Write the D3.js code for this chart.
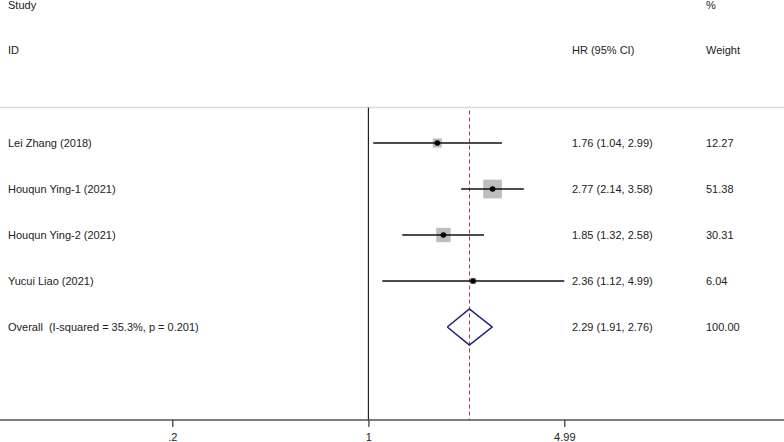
<!DOCTYPE html>
<html>
<head>
<meta charset="utf-8">
<script src="https://d3js.org/d3.v7.min.js"></script>
<style>
  body { margin: 0; background: #fff; }
  svg text { font-family: "Liberation Sans", Arial, sans-serif; font-size: 11px; fill: #222; white-space: pre; }
</style>
</head>
<body>
<svg id="plot" width="784" height="442"></svg>
<script>
let studies = ["Lei Zhang (2018)", "Houqun Ying-1 (2021)", "Houqun Ying-2 (2021)", "Yucui Liao (2021)"];
let hr = [1.76, 2.77, 1.85, 2.36];
let lower = [1.04, 2.14, 1.32, 1.12];
let upper = [2.99, 3.58, 2.58, 4.99];
let weights = [12.27, 51.38, 30.31, 6.04];

let overallLabel = "Overall  (I-squared = 35.3%, p = 0.201)";
let overall = {hr: 2.29, lo: 1.91, hi: 2.76, weight: 100.00};

let tickVals = [0.2, 1, 4.99];
let tickLabels = [".2", "1", "4.99"];

let width = 784, height = 442;
let svg = d3.select("#plot");

let x = d3.scaleLog()
  .domain([0.2, 4.99])
  .range([172.3, 564.3]);

let rows = studies.concat([overallLabel]);
let y = d3.scalePoint()
  .domain(rows)
  .range([143, 327]);

let axisY = 420, topY = 107.5;
let fmt = d3.format(".2f");

// header
svg.append("text").attr("x", 8).attr("y", 9).text("Study");
svg.append("text").attr("x", 8).attr("y", 54).text("ID");
svg.append("text").attr("x", 572).attr("y", 54).text("HR (95% CI)");
svg.append("text").attr("x", 706).attr("y", 9).text("%");
svg.append("text").attr("x", 706).attr("y", 54).text("Weight");

svg.append("line")
  .attr("x1", 0).attr("x2", width)
  .attr("y1", topY).attr("y2", topY)
  .attr("stroke", "#d9d9d9").attr("stroke-width", 1.5);

// null line
svg.append("line")
  .attr("x1", x(1)).attr("x2", x(1))
  .attr("y1", topY).attr("y2", axisY)
  .attr("stroke", "#222").attr("stroke-width", 1.2);

// overall effect line
let ox = Math.round(x(overall.hr)) + 0.5;
svg.append("line")
  .attr("x1", ox).attr("x2", ox)
  .attr("y1", topY + 3).attr("y2", axisY)
  .attr("stroke", "#a03c3c").attr("stroke-width", 1)
  .attr("stroke-dasharray", "4,3");

// axis
svg.append("line")
  .attr("x1", 0).attr("x2", width)
  .attr("y1", axisY).attr("y2", axisY)
  .attr("stroke", "#555").attr("stroke-width", 1.5);

let axis = svg.append("g")
  .attr("transform", "translate(0," + axisY + ")")
  .call(d3.axisBottom(x)
    .tickValues(tickVals)
    .tickFormat((d, i) => tickLabels[i])
    .tickSize(7)
    .tickPadding(6));
axis.select(".domain").remove();
axis.selectAll(".tick line").attr("stroke", "#333").attr("stroke-width", 1.2);
axis.selectAll(".tick text").style("font-family", "\"Liberation Sans\", Arial, sans-serif").style("font-size", "11px").attr("fill", "#222");

// study rows
let boxK = 2.61;
let g = svg.append("g");
studies.forEach((s, i) => {
  let cy = y(s);
  let side = boxK * Math.sqrt(weights[i]);
  g.append("text").attr("x", 8).attr("y", cy + 4).text(s);
  g.append("rect")
    .attr("x", x(hr[i]) - side / 2)
    .attr("y", cy - side / 2)
    .attr("width", side)
    .attr("height", side)
    .attr("fill", "#bdbdbd");
  g.append("line")
    .attr("x1", x(lower[i])).attr("x2", x(upper[i]))
    .attr("y1", cy).attr("y2", cy)
    .attr("stroke", "#111").attr("stroke-width", 1.5);
  g.append("circle")
    .attr("cx", x(hr[i])).attr("cy", cy).attr("r", 2.8)
    .attr("fill", "#000");
  g.append("text").attr("x", 572).attr("y", cy + 4)
    .text(fmt(hr[i]) + " (" + fmt(lower[i]) + ", " + fmt(upper[i]) + ")");
  g.append("text").attr("x", 706).attr("y", cy + 4).text(fmt(weights[i]));
});

// overall row
let oy = y(overallLabel);
svg.append("text").attr("x", 8).attr("y", oy + 4).text(overallLabel);
svg.append("path")
  .attr("d", d3.line()([
    [x(overall.lo), oy], [x(overall.hr), oy - 18],
    [x(overall.hi), oy], [x(overall.hr), oy + 18], [x(overall.lo), oy]
  ]))
  .attr("fill", "none")
  .attr("stroke", "#1a1a7a").attr("stroke-width", 1.5);
svg.append("text").attr("x", 572).attr("y", oy + 4)
  .text(fmt(overall.hr) + " (" + fmt(overall.lo) + ", " + fmt(overall.hi) + ")");
svg.append("text").attr("x", 706).attr("y", oy + 4).text(fmt(overall.weight));
</script>
</body>
</html>
